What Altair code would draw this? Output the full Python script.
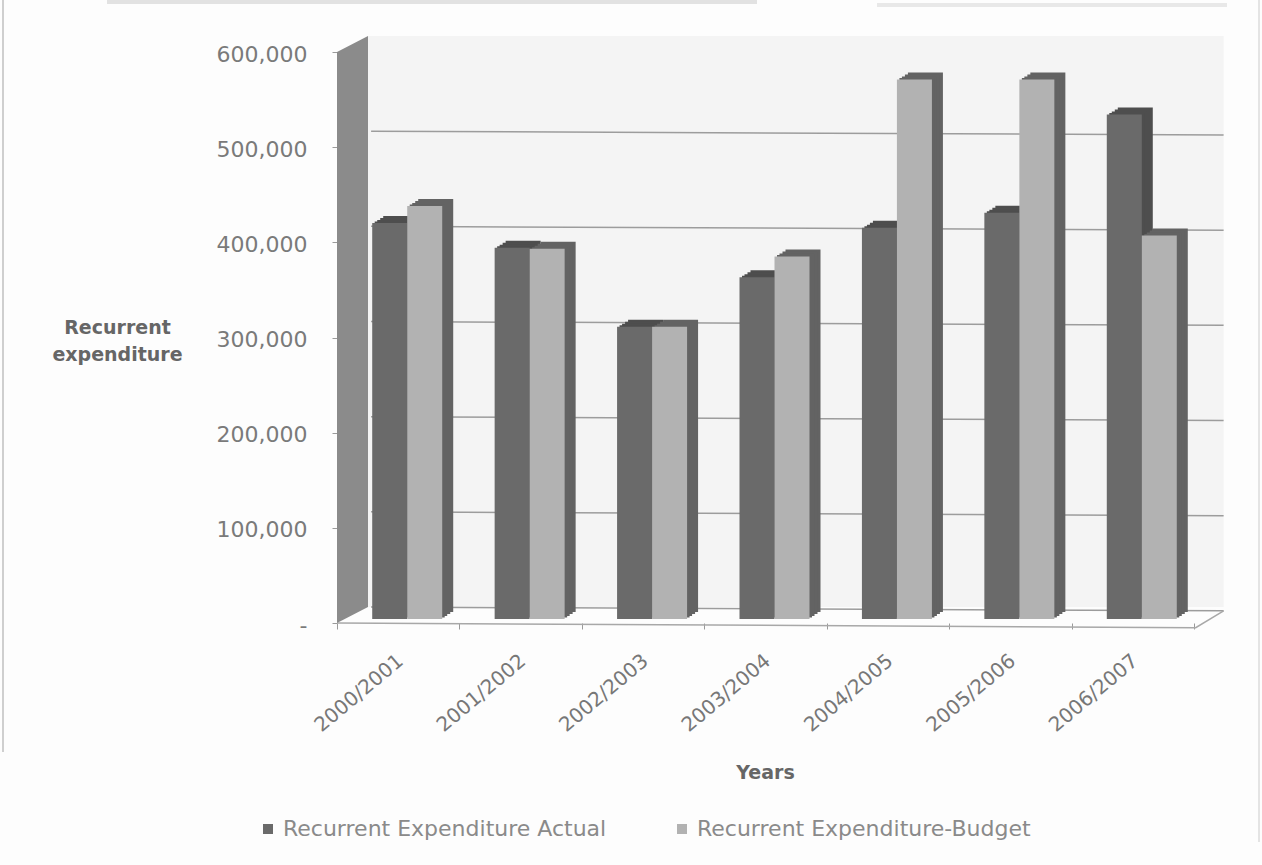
import altair as alt
import pandas as pd

years = ["2000/2001", "2001/2002", "2002/2003", "2003/2004", "2004/2005", "2005/2006", "2006/2007"]
actual = [416000, 390000, 307000, 359000, 411000, 427000, 530000]
budget = [434000, 389000, 307000, 381000, 567000, 567000, 403000]
series_names = ["Recurrent Expenditure Actual", "Recurrent Expenditure-Budget"]

grid_levels = [100000, 200000, 300000, 400000, 500000, 600000]
wall_lift = 16800      # height the back wall sits above the axis plane
grid_tilt = 4000       # drop of a gridline across the back wall

font = "DejaVu Sans"

bars = pd.DataFrame(
    [{"year": y, "series": series_names[0], "value": v} for y, v in zip(years, actual)]
    + [{"year": y, "series": series_names[1], "value": v} for y, v in zip(years, budget)]
)

# Side wall and back wall, on a helper x scale where one unit is the wall depth
side_wall = pd.DataFrame({"d": [0, 1], "top": [600000, 600000 + wall_lift], "bottom": [0, wall_lift]})
back_wall = pd.DataFrame({"d": [1, 28.6], "top": [600000 + wall_lift] * 2, "bottom": [wall_lift] * 2})
grid = pd.DataFrame(
    [{"level": g, "d": 1.1, "v": g + wall_lift} for g in [0] + grid_levels[:-1]]
    + [{"level": g, "d": 28.6, "v": g + wall_lift - grid_tilt} for g in [0] + grid_levels[:-1]]
)
floor_edge = pd.DataFrame({"d": [0, 27.7, 28.6], "v": [0, -5000, wall_lift - grid_tilt]})

depth = alt.Scale(domain=[0, 1], range=[0, 31])
y_scale = alt.Scale(domain=[0, 600000], nice=False)
x_band = alt.Scale(domain=years, paddingInner=0, paddingOuter=0)
colour_scale = alt.Scale(domain=series_names, range=["#6a6a6a", "#b2b2b2"])

y_axis = alt.Axis(
    values=[0] + grid_levels,
    labelExpr="datum.value === 0 ? '-' : format(datum.value, ',')",
    labelFont=font,
    labelFontSize=22,
    labelColor="#7a7a7a",
    labelPadding=25,
    labelOffset=2,
    domain=False,
    grid=False,
    tickColor="#9a9a9a",
    tickSize=5,
    titleFont=font,
    titleFontSize=19,
    titleFontWeight="bold",
    titleColor="#666666",
    titleAngle=0,
    titleAlign="center",
    titleBaseline="middle",
    titleX=-220,
    titleY=275,
    titleLineHeight=27,
)
y_title = ["Recurrent", "expenditure"]


def y_enc(field):
    return alt.Y(field, scale=y_scale, axis=y_axis, title=y_title)


back = alt.Chart(back_wall).mark_area(color="#f4f4f4").encode(
    x=alt.X("d:Q", scale=depth, axis=None),
    y=y_enc("top:Q"),
    y2="bottom:Q",
)
side = alt.Chart(side_wall).mark_area(color="#8b8b8b").encode(
    x=alt.X("d:Q", scale=depth, axis=None),
    y=y_enc("top:Q"),
    y2="bottom:Q",
)
grid_lines = alt.Chart(grid).mark_line(color="#9c9c9c", strokeWidth=1.5).encode(
    x=alt.X("d:Q", scale=depth, axis=None),
    y=y_enc("v:Q"),
    detail="level:Q",
)
floor = alt.Chart(floor_edge).mark_line(color="#a8a8a8", strokeWidth=1.5).encode(
    x=alt.X("d:Q", scale=depth, axis=None),
    y=y_enc("v:Q"),
)


def extruded(series, colour, shift):
    # Shifted copies behind the front faces, stepping up to the bar's side and top
    steps = [(11, -7), (8, -5), (5, -3), (2.5, -1.5)]
    return [
        alt.Chart(bars)
        .transform_filter(alt.datum.series == series)
        .mark_bar(color=colour, width=35, xOffset=shift + dx, yOffset=-4 + dy)
        .encode(x=alt.X("year:N", scale=x_band, axis=None), y=y_enc("value:Q"))
        for dx, dy in steps
    ]


def face(series, shift, x_axis):
    return (
        alt.Chart(bars)
        .transform_filter(alt.datum.series == series)
        .mark_bar(width=35, xOffset=shift, yOffset=-4)
        .encode(
            x=alt.X("year:N", scale=x_band, title="Years", axis=x_axis),
            y=y_enc("value:Q"),
            color=alt.Color("series:N", scale=colour_scale, legend=legend),
        )
    )


year_axis = alt.Axis(
    labelAngle=-40,
    labelAlign="right",
    labelBaseline="middle",
    labelFont=font,
    labelFontSize=20,
    labelColor="#777777",
    labelPadding=29,
    labelOffset=2,
    domain=False,
    tickBand="extent",
    tickColor="#9a9a9a",
    tickSize=6,
    titleFont=font,
    titleFontSize=19,
    titleFontWeight="bold",
    titleColor="#666666",
    titleX=428,
    titleY=140,
    grid=False,
)
legend = alt.Legend(
    title=None,
    orient="none",
    legendX=-80,
    legendY=766,
    direction="horizontal",
    columns=2,
    columnPadding=64,
    symbolType="square",
    symbolSize=100,
    labelFont=font,
    labelFontSize=22,
    labelColor="#8a8a8a",
    labelLimit=400,
)

# Edge lines of the page and the smudged strips along its top
frame_left = alt.Chart().mark_rule(color="#cfcfcf", strokeWidth=2).encode(
    x=alt.value(-334), y=alt.value(-52), y2=alt.value(700)
)
frame_right = alt.Chart().mark_rule(color="#e4e4e4", strokeWidth=2).encode(
    x=alt.value(922), y=alt.value(-52), y2=alt.value(790)
)
top_strip = alt.Chart().mark_rule(color="#e2e2e2", strokeWidth=4).encode(
    x=alt.value(-230), x2=alt.value(420), y=alt.value(-50)
)
top_strip_right = alt.Chart().mark_rule(color="#e8e8e8", strokeWidth=4).encode(
    x=alt.value(540), x2=alt.value(890), y=alt.value(-47)
)

chart = (
    alt.layer(
        back,
        grid_lines,
        floor,
        side,
        *extruded(series_names[0], "#4e4e4e", -8.5),
        *extruded(series_names[1], "#636363", 26.5),
        face(series_names[0], -8.5, year_axis),
        face(series_names[1], 26.5, None),
        frame_left,
        frame_right,
        top_strip,
        top_strip_right,
    )
    .resolve_scale(x="independent")
    .properties(
        width=857,
        height=571,
        padding={"left": 337, "top": 52, "right": 68, "bottom": 242},
        autosize=alt.AutoSizeParams(type="none"),
        background="#fdfdfd",
    )
    .configure_view(stroke=None)
)

chart.save("out.html", embed_options={"renderer": "svg", "actions": False})
